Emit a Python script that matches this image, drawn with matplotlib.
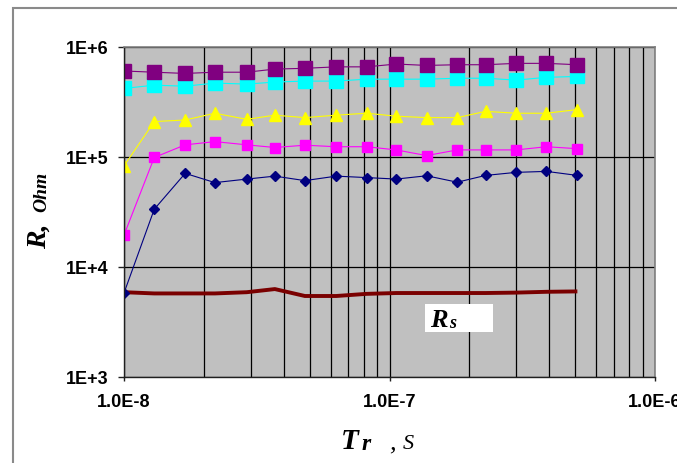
import matplotlib
matplotlib.use("Agg")
import matplotlib.pyplot as plt
import matplotlib.patches as patches
import matplotlib.ticker as mticker
import numpy as np

# rise time, s
t_rise = [1.0e-8, 1.3e-8, 1.7e-8, 2.2e-8, 2.9e-8, 3.7e-8, 4.8e-8, 6.3e-8,
          8.2e-8, 1.06e-7, 1.38e-7, 1.8e-7, 2.3e-7, 3.0e-7, 3.9e-7, 5.1e-7]

# resistance series, Ohm
r_purple = [6.05e5, 5.9e5, 5.75e5, 5.9e5, 5.9e5, 6.3e5, 6.4e5, 6.6e5,
            6.6e5, 7.0e5, 6.8e5, 6.9e5, 6.9e5, 7.1e5, 7.1e5, 6.9e5]
r_cyan = [4.2e5, 4.5e5, 4.4e5, 4.7e5, 4.6e5, 4.8e5, 4.9e5, 4.9e5,
          5.1e5, 5.1e5, 5.1e5, 5.2e5, 5.2e5, 5.0e5, 5.3e5, 5.4e5]
r_yellow = [8.3e4, 2.1e5, 2.17e5, 2.5e5, 2.2e5, 2.4e5, 2.28e5, 2.4e5,
            2.5e5, 2.35e5, 2.28e5, 2.28e5, 2.6e5, 2.5e5, 2.5e5, 2.7e5]
r_magenta = [1.95e4, 9.9e4, 1.29e5, 1.38e5, 1.29e5, 1.22e5, 1.28e5, 1.24e5,
             1.24e5, 1.16e5, 1.03e5, 1.16e5, 1.16e5, 1.16e5, 1.24e5, 1.19e5]
r_navy = [5.8e3, 3.35e4, 7.1e4, 5.85e4, 6.3e4, 6.7e4, 6.1e4, 6.7e4,
          6.5e4, 6.3e4, 6.75e4, 5.9e4, 6.8e4, 7.25e4, 7.4e4, 6.8e4]
r_s = [5.9e3, 5.75e3, 5.75e3, 5.75e3, 5.9e3, 6.3e3, 5.45e3, 5.45e3,
       5.7e3, 5.8e3, 5.8e3, 5.8e3, 5.8e3, 5.85e3, 5.95e3, 6.0e3]

W, H = 677, 463
fig = plt.figure(figsize=(W / 100, H / 100), dpi=100)
fig.patch.set_facecolor('white')

# chart area frame
frame = patches.Rectangle((13 / W, -0.05), 1.2, 1 - 8 / H + 0.05,
                          transform=fig.transFigure, fill=False,
                          edgecolor='#8a8a8a', linewidth=1.5, clip_on=False)
fig.patches.append(frame)

ax = fig.add_axes([124 / W, 1 - 377 / H, (655 - 124) / W, (377 - 47) / H])
ax.set_facecolor('#c0c0c0')
ax.set_xscale('log')
ax.set_yscale('log')
ax.set_xlim(1e-8, 1e-6)
ax.set_ylim(1e3, 1e6)

# grid: every x decade step, only major y
ax.xaxis.set_minor_locator(mticker.LogLocator(base=10, subs=np.arange(2, 10)))
ax.yaxis.set_minor_locator(mticker.NullLocator())
ax.grid(True, which='both', axis='x', color='black', linewidth=0.9)
ax.grid(True, which='major', axis='y', color='black', linewidth=0.9)
ax.set_axisbelow(True)

ax.plot(t_rise, r_s, color='#7a0000', linewidth=2.8, solid_capstyle='butt')
ax.plot(t_rise, r_navy, color='#000080', linewidth=0.8, marker='D',
        markersize=5.5, markerfacecolor='#000080', markeredgecolor='#000080')
ax.plot(t_rise, r_magenta, color='#ff00ff', linewidth=0.8, marker='s',
        markersize=7, markerfacecolor='#ff00ff', markeredgecolor='#ff00ff')
ax.plot(t_rise, r_yellow, color='#ffff00', linewidth=0.8, marker='^',
        markersize=8.5, markerfacecolor='#ffff00', markeredgecolor='#ffff00')
ax.plot(t_rise, r_cyan, color='#00ffff', linewidth=0.8, marker='s',
        markersize=10, markerfacecolor='#00ffff', markeredgecolor='#00ffff')
ax.plot(t_rise, r_purple, color='#800080', linewidth=0.8, marker='s',
        markersize=10.5, markerfacecolor='#800080', markeredgecolor='#800080')

for side in ('top', 'right'):
    ax.spines[side].set_color('#808080')
    ax.spines[side].set_linewidth(1.2)
for side in ('left', 'bottom'):
    ax.spines[side].set_color('#202020')
    ax.spines[side].set_linewidth(1.0)

ax.yaxis.set_major_locator(mticker.FixedLocator([1e3, 1e4, 1e5, 1e6]))
ax.yaxis.set_major_formatter(mticker.FuncFormatter(
    lambda v, p: '1E+%d' % round(np.log10(v))))
ax.xaxis.set_major_locator(mticker.FixedLocator([1e-8, 1e-7, 1e-6]))
ax.xaxis.set_major_formatter(mticker.FuncFormatter(
    lambda v, p: '1.0E%d' % round(np.log10(v))))

ax.tick_params(axis='y', which='major', direction='out', length=4.5,
               width=1, pad=7, labelsize=13, color='#202020')
ax.tick_params(axis='x', which='major', direction='out', length=3,
               width=1, pad=9, labelsize=13, color='#202020')
ax.tick_params(axis='x', which='minor', length=0)
for lab in ax.get_xticklabels() + ax.get_yticklabels():
    lab.set_fontfamily('Liberation Sans')
    lab.set_fontweight('bold')

# Rs tag
tag = patches.Rectangle((425 / W, 1 - 332 / H), (493 - 425) / W, 28 / H,
                        transform=fig.transFigure, facecolor='white',
                        edgecolor='none', zorder=5)
fig.patches.append(tag)
fig.text(430 / W, 1 - 327 / H, 'R', fontsize=19, fontfamily='Liberation Serif',
         fontstyle='italic', fontweight='bold', ha='left', va='baseline',
         zorder=6)
fig.text(449 / W, 1 - 328 / H, 's', fontsize=13, fontfamily='Liberation Serif',
         fontstyle='italic', fontweight='bold', ha='left', va='baseline',
         zorder=6)

# axis titles
fig.text(341 / W, 1 - 449 / H, 'T', fontsize=21, fontfamily='Liberation Serif',
         fontstyle='italic', fontweight='bold', ha='left', va='baseline')
fig.text(362 / W, 1 - 450 / H, 'r', fontsize=17, fontfamily='Liberation Serif',
         fontstyle='italic', fontweight='bold', ha='left', va='baseline')
fig.text(389 / W, 1 - 449 / H, ',', fontsize=19, fontfamily='Liberation Serif',
         fontstyle='italic', ha='left', va='baseline')
fig.text(403 / W, 1 - 449 / H, 'S', fontsize=16, fontfamily='Liberation Serif',
         fontstyle='italic', ha='left', va='baseline')

fig.text(46 / W, 1 - 249 / H, 'R,', fontsize=20, fontfamily='Liberation Serif',
         fontstyle='italic', fontweight='bold', rotation=90,
         rotation_mode='anchor', ha='left', va='baseline')
fig.text(46 / W, 1 - 212 / H, 'Ohm', fontsize=14, fontfamily='Liberation Serif',
         fontstyle='italic', fontweight='bold', rotation=90,
         rotation_mode='anchor', ha='left', va='baseline')

fig.savefig('out.png', dpi=100)
